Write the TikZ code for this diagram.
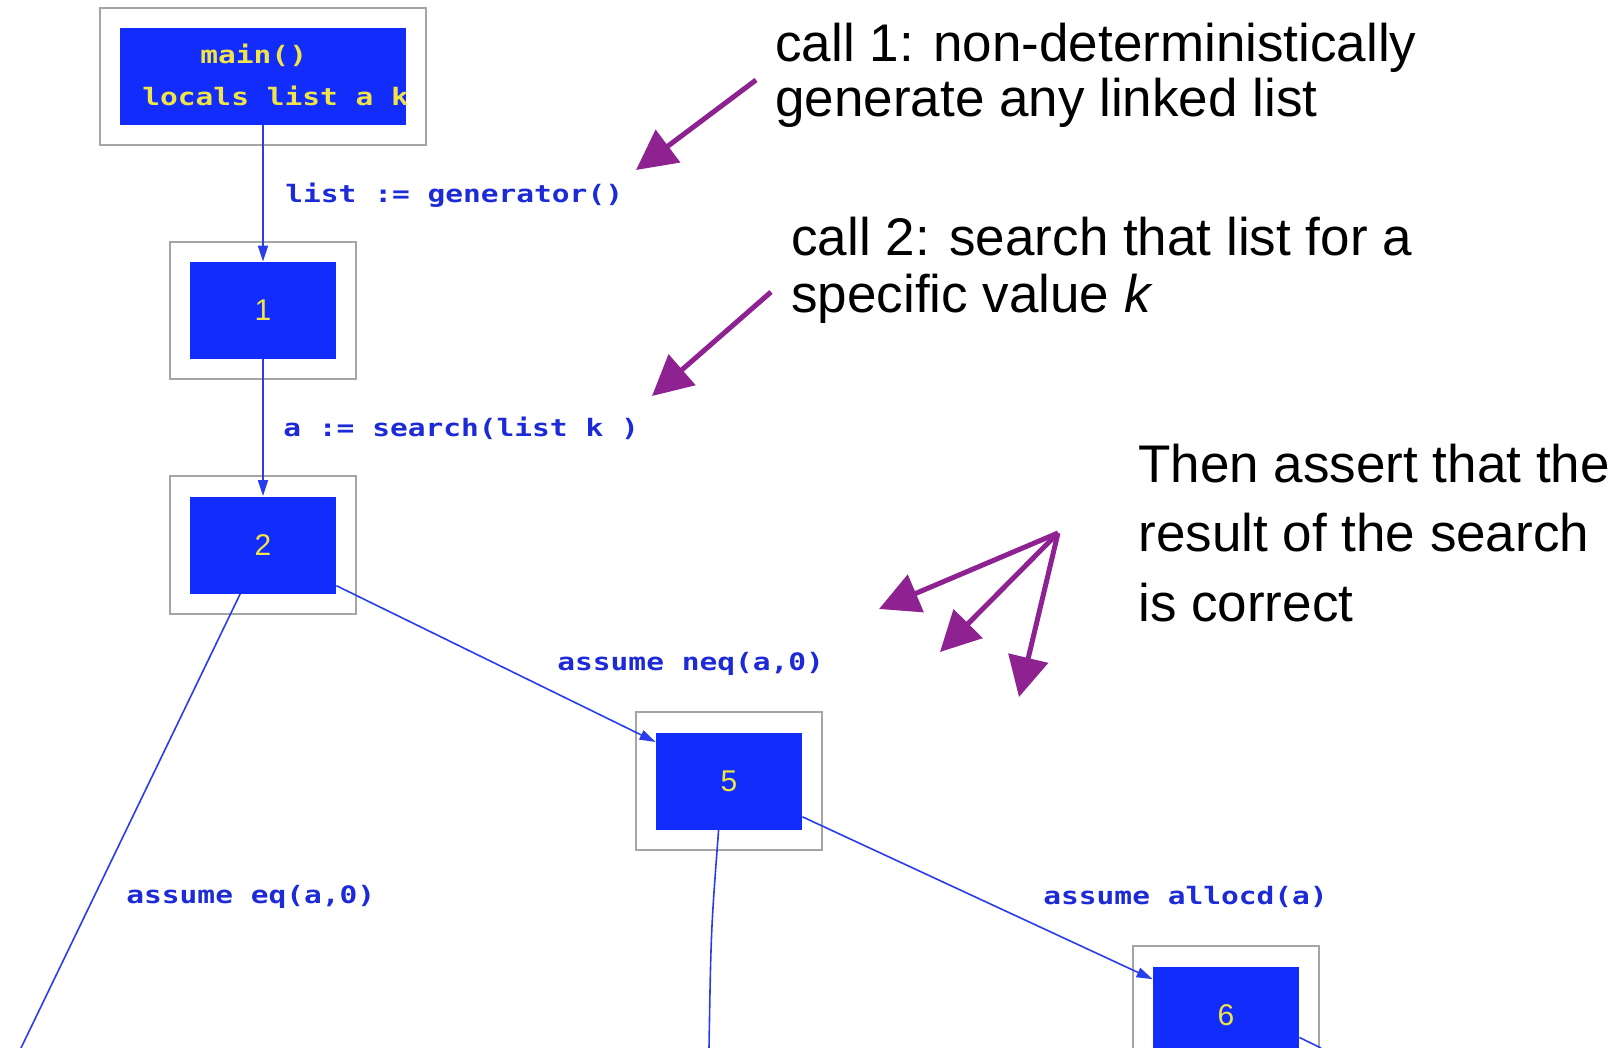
\documentclass[tikz,border=0pt]{standalone}
\usepackage{fontspec}
\setmainfont{Liberation Sans}
\newfontfamily\monofont{DejaVu Sans Mono}
\usepackage{graphicx}
\usetikzlibrary{arrows.meta,fit,calc}
\definecolor{nodeblue}{RGB}{18,44,252}
\definecolor{edgeblue}{RGB}{40,62,235}
\definecolor{lblblue}{RGB}{28,42,215}
\definecolor{ytxt}{RGB}{240,228,70}
\definecolor{framegray}{RGB}{165,165,165}
\definecolor{callpurple}{RGB}{142,34,145}
\newcommand{\wm}[1]{\scalebox{1.23}[1]{\monofont\bfseries #1}}
\tikzset{
  bluebox/.style={fill=nodeblue, draw=none, minimum width=73pt, minimum height=48.5pt, inner sep=0pt, text=ytxt, font=\fontsize{15}{16}\selectfont},
  framebox/.style={draw=framegray, line width=1pt, inner sep=10pt},
  flow/.style={draw=edgeblue, line width=0.8pt, -{Triangle[length=8pt,width=5pt]}},
  flowopen/.style={draw=edgeblue, line width=0.8pt},
  elabel/.style={text=lblblue, inner sep=0pt, anchor=base west, font=\fontsize{12}{14}\selectfont},
  intext/.style={text=ytxt, inner sep=0pt, anchor=base west, font=\fontsize{12}{14}\selectfont},
  note/.style={text=black, inner sep=0pt, anchor=base west, align=left},
  callout/.style={draw=callpurple, line width=2.5pt, -{Triangle[length=20pt,width=20pt]}},
}
\begin{document}
\begin{tikzpicture}[x=0.5pt,y=-0.5pt]
\useasboundingbox (0,0) rectangle (1623,1048);
\clip (0,0) rectangle (1623,1048);
\fill[white] (0,0) rectangle (1623,1048);

% graph nodes
\node[bluebox, minimum width=143pt] (main) at (263,76.5) {};
\begin{scope}
  \clip (main.south west) rectangle (main.north east);
  \node[intext] (mainl1) at (200,64) {\wm{main()}};
  \node[intext] (mainl2) at (142,106) {\wm{locals list a k}};
\end{scope}
\node[bluebox] (n1) at (263,310.5) {1};
\node[bluebox] (n2) at (263,545) {2};
\node[bluebox] (n5) at (729,781) {5};
\node[bluebox] (n6) at (1226,1015) {6};

\node[framebox, fit=(main)] (mainframe) {};
\node[framebox, fit=(n1)] (f1) {};
\node[framebox, fit=(n2)] (f2) {};
\node[framebox, fit=(n5)] (f5) {};
\node[framebox, fit=(n6)] (f6) {};

% edges
\coordinate (off2) at (21,1048);
\coordinate (off5) at (709,1048);
\coordinate (off6) at (1321,1048);
\draw[flow] (main) -- (n1);
\draw[flow] (n1) -- (n2);
\draw[flow] (n2.-29) -- (n5.152);
\draw[flow] (n5.-26) -- (n6.154);
\draw[flowopen] (n2.-115) -- (off2);
\draw[flowopen] (n5.-102) .. controls (711,930) .. (off5);
\draw[flowopen] (n6.-17.5) -- (off6);

% edge labels
\node[elabel] (l1) at (285,203) {\wm{list := generator()}};
\node[elabel] (l2) at (283,437) {\wm{a := search(list k )}};
\node[elabel] (l3) at (557,670) {\wm{assume neq(a,0)}};
\node[elabel] (l4) at (126,903) {\wm{assume eq(a,0)}};
\node[elabel] (l5) at (1043,904) {\wm{assume allocd(a)}};

% annotations (anchor = baseline of last line)
\node[note, font=\fontsize{26.5}{27.5}\selectfont] (c1) at (775,117) {call 1: non-deterministically\\generate any linked list};
\node[note, font=\fontsize{26.5}{28.5}\selectfont] (c2) at (791,313) {call 2: search that list for a\\specific value \textit{k}};
\node[note, font=\fontsize{26.5}{34.75}\selectfont] (c3) at (1138,621) {Then assert that the\\result of the search\\is correct};

\coordinate (a1s) at (756,80);
\coordinate (a1t) at (636,170);
\coordinate (a2s) at (771,292);
\coordinate (a2t) at (652,396);
\coordinate (fan) at (1058,533);
\coordinate (t1) at (879,609);
\coordinate (t2) at (940,652);
\coordinate (t3) at (1019,697);
\draw[callout] (a1s) -- (a1t);
\draw[callout] (a2s) -- (a2t);
\draw[callout] (fan) -- (t1);
\draw[callout] (fan) -- (t2);
\draw[callout] (fan) -- (t3);
\end{tikzpicture}
\end{document}
